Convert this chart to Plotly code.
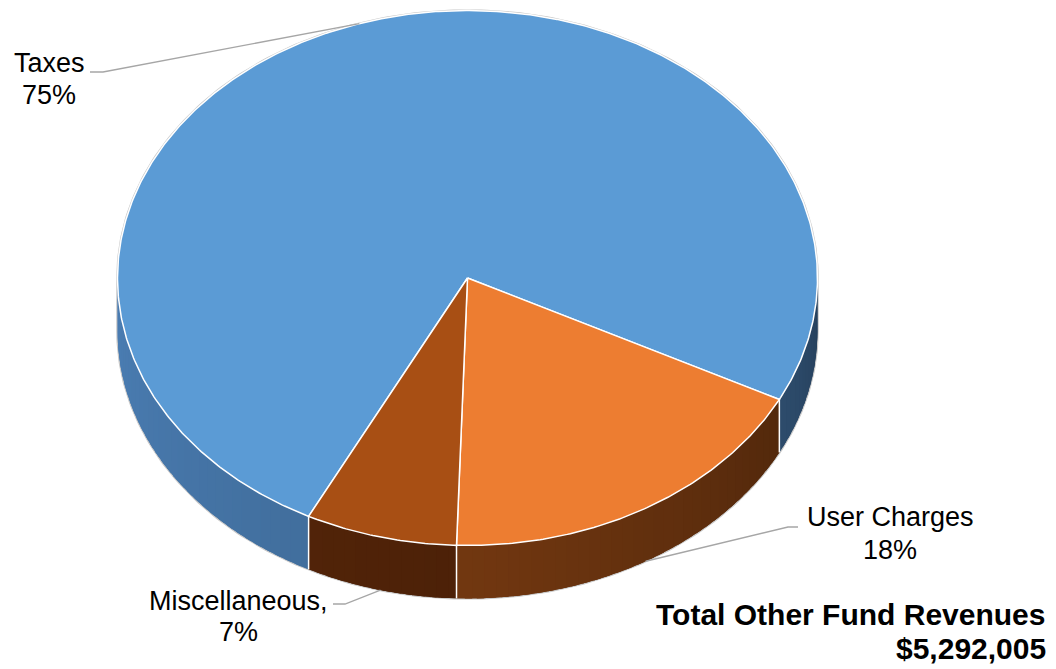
import numpy as np
import plotly.graph_objects as go

# ---- data ----
categories = ["Taxes", "User Charges", "Miscellaneous"]
percents = [75, 18, 7]
label_names = ["Taxes", "User Charges", "Miscellaneous,"]
label_values = ["75%", "18%", "7%"]
top_colors = ["#5B9BD5", "#ED7D31", "#A84F14"]
side_colors = [(61, 103, 147), (113, 55, 16), (76, 33, 8)]
total_title = "Total Other Fund Revenues"
total_value = "$5,292,005"

# ---- geometry of the tilted pie (pixel space, y down) ----
CX, CY = 467.5, 278.0
RX, RY = 350.0, 267.5
DEPTH = 53.0
START = 117.0  # first slice starts here, clockwise from 3 o'clock

W, H = 1056, 669


def pt(theta_deg, drop=0.0):
    t = np.radians(theta_deg)
    return CX + RX * np.cos(t), CY + RY * np.sin(t) + drop


def shade(rgb, theta):
    th = theta % 360
    if th <= 90:
        g = 0.62 + 0.38 * th / 90
    else:
        g = 1.0 + 0.22 * (th - 90) / 90
    r, gg, b = (min(255, int(round(c * g))) for c in rgb)
    return f"rgb({r},{gg},{b})"


bounds = []
acc = START
for p in percents:
    bounds.append((acc, acc + 3.6 * p))
    acc += 3.6 * p

fig = go.Figure()


def add_poly(xs, ys, fill, line_color=None, line_width=0.0):
    fig.add_trace(go.Scatter(
        x=list(xs), y=list(ys), mode="lines", fill="toself", fillcolor=fill,
        line=dict(color=line_color or fill, width=line_width),
        hoverinfo="skip", showlegend=False))


# outer silhouette (faint grey rim)
tx, ty = pt(np.linspace(180, 360, 200))
bx, by = pt(np.linspace(0, 180, 200), DEPTH)
fig.add_trace(go.Scatter(
    x=list(tx) + [CX + RX] + list(bx) + [CX - RX],
    y=list(ty) + [CY + DEPTH] + list(by) + [CY],
    mode="lines", line=dict(color="#c8c8c8", width=2.5),
    hoverinfo="skip", showlegend=False))

# side walls: a base band per slice, then overlapping strips for the lighting
for (s, e), base in zip(bounds, side_colors):
    for lo, hi in ((0, 180), (360, 540)):
        a, b = max(s, lo), min(e, hi)
        if b <= a:
            continue
        th = np.linspace(a, b, 120)
        ux, uy = pt(th)
        dx, dy = pt(th[::-1], DEPTH)
        add_poly(list(ux) + list(dx), list(uy) + list(dy), shade(base, (a + b) / 2))
        n = max(1, int(np.ceil((b - a) / 2.0)))
        edges = np.linspace(a, b, n + 1)
        for a0, a1 in zip(edges[:-1], edges[1:]):
            a0e, a1e = max(a, a0 - 0.6), min(b, a1 + 0.6)
            th = np.linspace(a0e, a1e, 5)
            ux, uy = pt(th)
            dx, dy = pt(th[::-1], DEPTH)
            add_poly(list(ux) + list(dx), list(uy) + list(dy), shade(base, (a0 + a1) / 2))

# white seams where slices meet on the side wall
for s, e in bounds:
    th = s % 360
    if 0 < th < 180:
        x0, y0 = pt(th)
        x1, y1 = pt(th, DEPTH)
        fig.add_trace(go.Scatter(
            x=[x0, x1], y=[y0, y1], mode="lines",
            line=dict(color="white", width=1.5),
            hoverinfo="skip", showlegend=False))

# top faces
for name, (s, e), col in zip(categories, bounds, top_colors):
    th = np.linspace(s, e, max(30, int(e - s) * 2))
    ax, ay = pt(th)
    fig.add_trace(go.Scatter(
        x=[CX] + list(ax) + [CX], y=[CY] + list(ay) + [CY],
        mode="lines", fill="toself", fillcolor=col,
        line=dict(color="white", width=1.5),
        name=name, hoverinfo="name", showlegend=False))

# labels with leader lines
label_layout = [
    # (center x, name y, value y, elbow start, elbow end)
    (49, 62.5, 95.0, (90, 72), (103, 72)),
    (890, 516.5, 550.0, (798, 527), (788, 527)),
    (238, 601.0, 632.0, (333, 604), (345, 604)),
]
for (s, e), nm, val, (lx, ny, vy, p0, p1) in zip(bounds, label_names, label_values, label_layout):
    mid = (s + e) / 2
    front = 0 < (mid % 360) < 180
    axp, ayp = pt(mid, DEPTH if front else 0.0)
    fig.add_trace(go.Scatter(
        x=[p0[0], p1[0], axp], y=[p0[1], p1[1], ayp], mode="lines",
        line=dict(color="#a6a6a6", width=1.3),
        hoverinfo="skip", showlegend=False))
    for txt, yy in ((nm, ny), (val, vy)):
        fig.add_annotation(x=lx, y=yy, text=txt, showarrow=False,
                           xanchor="center", yanchor="middle",
                           font=dict(family="Liberation Sans, Arial", size=27, color="black"))

for txt, yy in ((total_title, 614.0), (total_value, 648.5)):
    fig.add_annotation(x=1048, y=yy, text=f"<b>{txt}</b>", showarrow=False,
                       xanchor="right", yanchor="middle",
                       font=dict(family="Liberation Sans, Arial", size=30, color="black"))

fig.update_layout(
    width=W, height=H, margin=dict(l=0, r=0, t=0, b=0),
    paper_bgcolor="white", plot_bgcolor="white",
    xaxis=dict(range=[0, W], visible=False, fixedrange=True),
    yaxis=dict(range=[H, 0], visible=False, fixedrange=True),
)

fig.write_html("out.html")
